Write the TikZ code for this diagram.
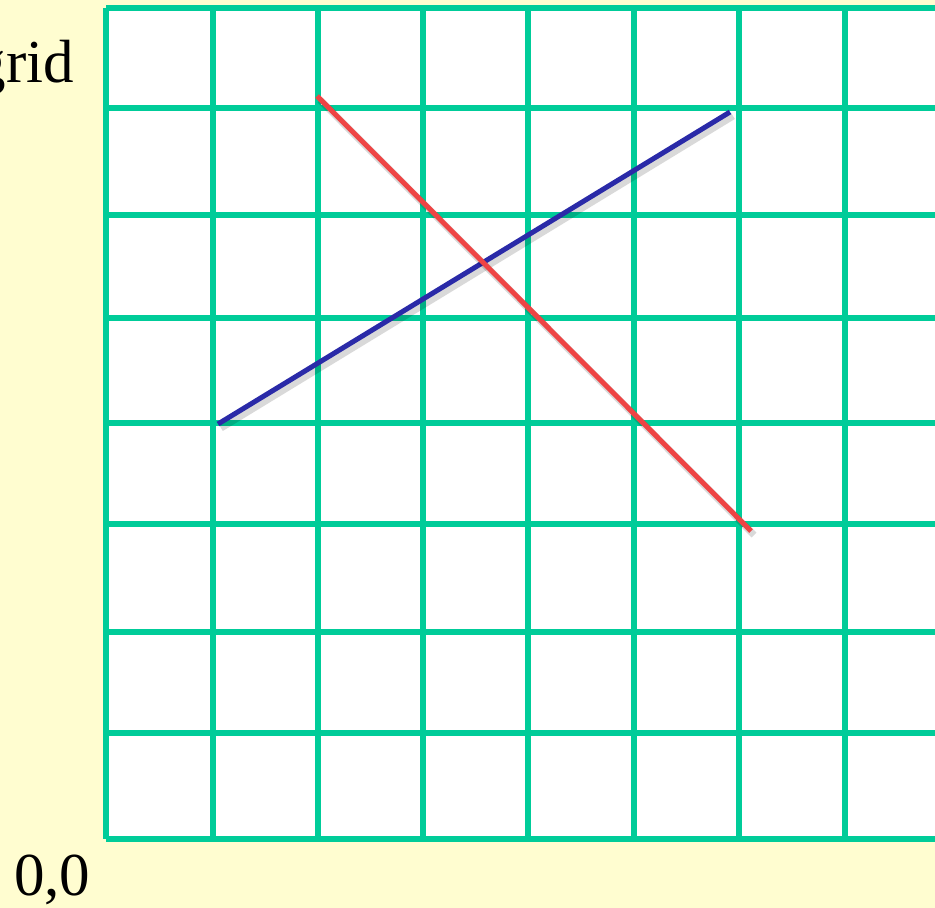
\documentclass[tikz,border=0pt]{standalone}
\usepackage{fontspec}
\setmainfont{Liberation Serif}
\definecolor{bgyellow}{HTML}{FFFDD0}
\definecolor{gridgreen}{HTML}{00CC99}
\definecolor{segred}{HTML}{EE4444}
\definecolor{segblue}{HTML}{2A2AA8}
\begin{document}
\begin{tikzpicture}[x=1pt,y=-1pt,
  gridline/.style={draw=gridgreen,line width=5.5pt},
  segline/.style={line width=5pt},
  shadowline/.style={draw=black,opacity=0.15,line width=7pt},
  bigtext/.style={font=\fontsize{61}{70}\selectfont,inner sep=0pt}]
\fill[bgyellow] (0,0) rectangle (935,908);
\useasboundingbox (0,0) rectangle (935,908);
% grid area
\fill[white] (106,8) rectangle (940,839);
\foreach \x in {106,213,318,423,528,634,739,845} {
  \draw[gridline] (\x,8) -- (\x,839);
}
\foreach \y in {8,108,215,318,423,524,632,733,839} {
  \draw[gridline] (106,\y) -- (940,\y);
}
% segment endpoints
\coordinate (b1) at (218,424);
\coordinate (b2) at (730,112);
\coordinate (r1) at (317,96);
\coordinate (r2) at (751,531);
% shadows and segments
\draw[shadowline] ([shift={(3,4)}]b1) -- ([shift={(3,4)}]b2);
\draw[segline,segblue] (b1) -- (b2);
\draw[shadowline] ([shift={(3,4)}]r1) -- ([shift={(3,4)}]r2);
\draw[segline,segred] (r1) -- (r2);
% labels
\node[bigtext,anchor=base east] (gridlabel) at (74,82) {grid};
\node[bigtext,anchor=base west] (origin) at (14,895) {0,0};
\end{tikzpicture}
\end{document}
